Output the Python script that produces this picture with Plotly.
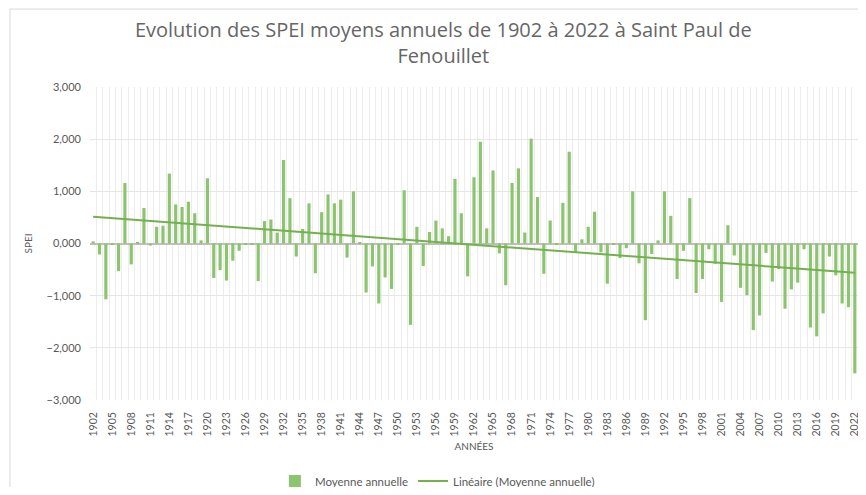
import numpy as np
import plotly.graph_objects as go

years = list(range(1902, 2023))
spei = [
    0.04, -0.21, -1.07, -0.03, -0.53, 1.16, -0.40, 0.01, 0.68, -0.04,
    0.32, 0.34, 1.34, 0.75, 0.70, 0.80, 0.58, 0.06, 1.25, -0.66,
    -0.51, -0.71, -0.33, -0.14, -0.03, -0.02, -0.72, 0.43, 0.46, 0.21,
    1.60, 0.87, -0.25, 0.28, 0.77, -0.57, 0.60, 0.94, 0.77, 0.84,
    -0.27, 1.00, 0.02, -0.94, -0.44, -1.15, -0.65, -0.87, -0.02, 1.02,
    -1.56, 0.32, -0.43, 0.22, 0.44, 0.29, 0.14, 1.24, 0.58, -0.63,
    1.27, 1.95, 0.29, 1.40, -0.19, -0.80, 1.16, 1.44, 0.21, 2.01,
    0.89, -0.58, 0.44, -0.02, 0.78, 1.76, -0.17, 0.08, 0.32, 0.61,
    -0.17, -0.77, -0.02, -0.28, -0.09, 1.00, -0.38, -1.47, -0.20, 0.06,
    1.00, 0.53, -0.68, -0.14, 0.87, -0.95, -0.68, -0.11, -0.39, -1.12,
    0.35, -0.23, -0.85, -0.99, -1.66, -1.38, -0.18, -0.73, -0.49, -1.25,
    -0.88, -0.75, -0.11, -1.61, -1.78, -1.34, -0.25, -0.61, -1.15, -1.22,
    -2.49,
]
tick_years = years[::3]
y_ticks = [-3, -2, -1, 0, 1, 2, 3]

slope, intercept = np.polyfit(years, spei, 1)
trend = [slope * y + intercept for y in years]

font = "Lato, 'Open Sans', sans-serif"
grey = "#595959"

fig = go.Figure()
fig.add_trace(go.Bar(
    x=years, y=spei, name="Moyenne annuelle",
    marker=dict(color="#8cc46f", line=dict(width=0)), width=0.5,
))
fig.add_trace(go.Scatter(
    x=years, y=trend, mode="lines", name="Linéaire (Moyenne annuelle)",
    line=dict(color="#74b04e", width=2),
))

fig.update_layout(
    width=852, height=479,
    paper_bgcolor="white", plot_bgcolor="white",
    margin=dict(l=82, r=2, t=79, b=87, autoexpand=False),
    separators=", ",
    font=dict(family=font, color=grey, size=10),
    title=dict(
        text="Evolution des SPEI moyens annuels de 1902 à 2022 à Saint Paul de<br>Fenouillet",
        x=0.511, xanchor="center", y=0.94, yanchor="top",
        font=dict(family="'Open Sans', sans-serif", size=20, color="#666666"),
    ),
    showlegend=True,
    legend=dict(orientation="h", xref="container", x=0.504, xanchor="center",
                yref="container", y=0.0125, yanchor="middle", bgcolor="rgba(0,0,0,0)",
                font=dict(size=11.5, color=grey), itemwidth=30),
    bargap=0.5,
    shapes=[
        dict(type="line", xref="paper", yref="paper",
             x0=-0.1042, x1=-0.1042, y0=-0.32, y1=1.249,
             line=dict(color="#d9d9d9", width=1)),
        dict(type="line", xref="paper", yref="paper",
             x0=-0.1042, x1=1.05, y0=1.249, y1=1.249,
             line=dict(color="#d9d9d9", width=1)),
    ],
)
fig.update_xaxes(
    range=[1901.5, 2022.5], automargin=False,
    tickmode="array", tickvals=tick_years, ticktext=[str(y) for y in tick_years],
    tickangle=-90, tickfont=dict(size=10.5, color=grey),
    ticklabeloverflow="allow",
    showgrid=False, showline=False, zeroline=False, ticks="",
    ticklabelstandoff=9,
    minor=dict(showgrid=True, gridcolor="#ececec", gridwidth=1, tick0=1901.5, dtick=1),
    title=dict(text="ANNÉES", font=dict(size=10, color=grey), standoff=7),
)
fig.update_yaxes(
    range=[-3, 3], automargin=False,
    tickmode="array", tickvals=y_ticks, tickformat=".3f",
    showgrid=True, gridcolor="#e6e6e6", gridwidth=1,
    zeroline=True, zerolinecolor="#bfbfbf", zerolinewidth=1.5,
    tickfont=dict(size=11, color=grey), ticks="",
    ticklabelstandoff=8,
    title=dict(text="SPEI", font=dict(size=10, color=grey), standoff=12),
)

fig.write_html("out.html")
